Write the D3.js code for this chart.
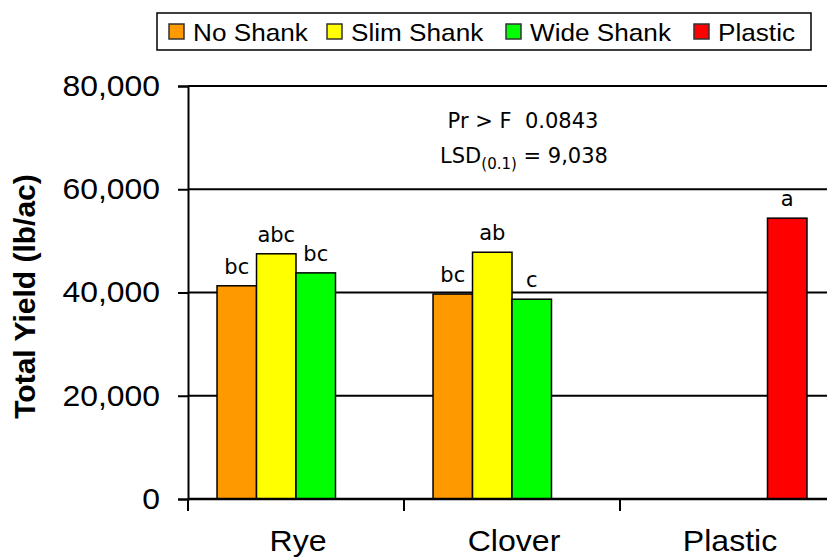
<!DOCTYPE html>
<html lang="en">
<head>
<meta charset="UTF-8">
<title>Total Yield</title>
<script src="https://d3js.org/d3.v7.min.js"></script>
<style>
  body { margin: 0; background: #fff; }
  svg { display: block; }
  .axis text { font-family: "Liberation Sans", Arial, sans-serif; fill: #000; }
  .letter { font-family: "DejaVu Sans", sans-serif; font-size: 21px; }
</style>
</head>
<body>
<svg id="chart" width="827" height="560"></svg>
<script>
const categories = ["Rye", "Clover", "Plastic"];
const seriesNames = ["No Shank", "Slim Shank", "Wide Shank", "Plastic"];
const seriesColors = ["#FF9900", "#FFFF00", "#00FF00", "#FF0000"];
const noShank = [41300, 39700, null];
const slimShank = [47500, 47800, null];
const wideShank = [43800, 38700, null];
const plastic = [null, null, 54400];
const noShankLetters = ["bc", "bc", null];
const slimShankLetters = ["abc", "ab", null];
const wideShankLetters = ["bc", "c", null];
const plasticLetters = [null, null, "a"];
const yTicks = [0, 20000, 40000, 60000, 80000];

const svg = d3.select("#chart");
const margin = { left: 188, right: -9, top: 86, bottom: 61 };
const width = 827, height = 560;

const x = d3.scaleBand().domain(categories)
    .range([margin.left, width - margin.right]).paddingInner(0).paddingOuter(0);
const x1 = d3.scaleBand().domain(seriesNames)
    .range([0, x.bandwidth()]).paddingOuter(0.735).paddingInner(0);
const y = d3.scaleLinear().domain([0, 80000]).range([height - margin.bottom, margin.top]);

// one row per category/series that has a value
const allValues = [noShank, slimShank, wideShank, plastic];
const allLetters = [noShankLetters, slimShankLetters, wideShankLetters, plasticLetters];
const rows = [];
categories.forEach((c, ci) => {
    seriesNames.forEach((s, si) => {
        if (allValues[si][ci] != null) {
            rows.push({ cat: c, series: s, value: allValues[si][ci], letter: allLetters[si][ci], color: seriesColors[si] });
        }
    });
});

// gridlines
svg.append("g").selectAll("line")
    .data(yTicks.slice(1))
    .join("line")
    .attr("x1", margin.left).attr("x2", width)
    .attr("y1", d => y(d)).attr("y2", d => y(d))
    .attr("stroke", "#000").attr("stroke-width", 2);

// bars
svg.append("g").selectAll("rect")
    .data(rows)
    .join("rect")
    .attr("x", d => x(d.cat) + x1(d.series))
    .attr("width", x1.bandwidth())
    .attr("y", d => y(d.value))
    .attr("height", d => y(0) - y(d.value))
    .attr("fill", d => d.color)
    .attr("stroke", "#000").attr("stroke-width", 1.5);

// significance letters
svg.append("g").selectAll("text")
    .data(rows)
    .join("text")
    .attr("class", "letter")
    .attr("x", d => x(d.cat) + x1(d.series) + x1.bandwidth() / 2)
    .attr("y", d => y(d.value) - 12)
    .attr("text-anchor", "middle")
    .text(d => d.letter);

// y axis
const yAxis = svg.append("g").attr("class", "axis")
    .attr("transform", `translate(${margin.left},0)`)
    .call(d3.axisLeft(y).tickValues(yTicks).tickFormat(d3.format(",")).tickSize(10));
yAxis.select(".domain").attr("stroke-width", 2);
yAxis.selectAll(".tick line").attr("stroke-width", 2);
yAxis.selectAll("text")
    .style("font-size", "29px")
    .attr("x", 0)
    .attr("transform", "translate(-28,0) scale(1.1,1)");

// x axis
const xAxis = svg.append("g").attr("class", "axis")
    .attr("transform", `translate(0,${y(0)})`)
    .call(d3.axisBottom(x).tickSize(0).tickPadding(31));
xAxis.select(".domain").attr("stroke-width", 2.5).attr("d", `M${margin.left},0H${width}`);
xAxis.selectAll("text")
    .style("font-size", "30px")
    .attr("transform", "translate(2,0) scale(1.07,1)");
svg.append("g").selectAll("line")
    .data(categories)
    .join("line")
    .attr("x1", d => x(d)).attr("x2", d => x(d))
    .attr("y1", y(0)).attr("y2", y(0) + 12)
    .attr("stroke", "#000").attr("stroke-width", 2);

// y axis title
svg.append("text")
    .attr("transform", `translate(35,${(y(0) + y(80000)) / 2 + 4}) rotate(-90)`)
    .attr("text-anchor", "middle")
    .style("font-family", "Liberation Sans, Arial, sans-serif")
    .style("font-size", "30px").style("font-weight", "bold")
    .text("Total Yield (lb/ac)");

// stats annotation
const ann = svg.append("g").style("font-family", "DejaVu Sans, sans-serif").style("font-size", "21px");
ann.append("text").attr("x", 523).attr("y", 128).attr("text-anchor", "middle").text("Pr > F \u00A00.0843");
const lsd = ann.append("text").attr("x", 524).attr("y", 163).attr("text-anchor", "middle");
lsd.append("tspan").text("LSD");
lsd.append("tspan").attr("dy", 6).style("font-size", "15px").text("(0.1)");
lsd.append("tspan").attr("dy", -6).text(" = 9,038");

// legend
const legend = svg.append("g");
legend.append("rect")
    .attr("x", 157).attr("y", 13).attr("width", 654).attr("height", 37)
    .attr("fill", "#fff").attr("stroke", "#000").attr("stroke-width", 1.5);
const legendX = [169, 327, 506, 694];
const li = legend.selectAll("g.item").data(seriesNames).join("g")
    .attr("transform", (d, i) => `translate(${legendX[i]},32)`);
li.append("rect").attr("x", 0).attr("y", -8).attr("width", 15).attr("height", 15)
    .attr("fill", (d, i) => seriesColors[i]).attr("stroke", "#333").attr("stroke-width", 1.5);
li.append("text").attr("transform", "translate(24,9) scale(1.09,1)")
    .style("font-family", "Liberation Sans, Arial, sans-serif").style("font-size", "24px")
    .text(d => d);
</script>
</body>
</html>
